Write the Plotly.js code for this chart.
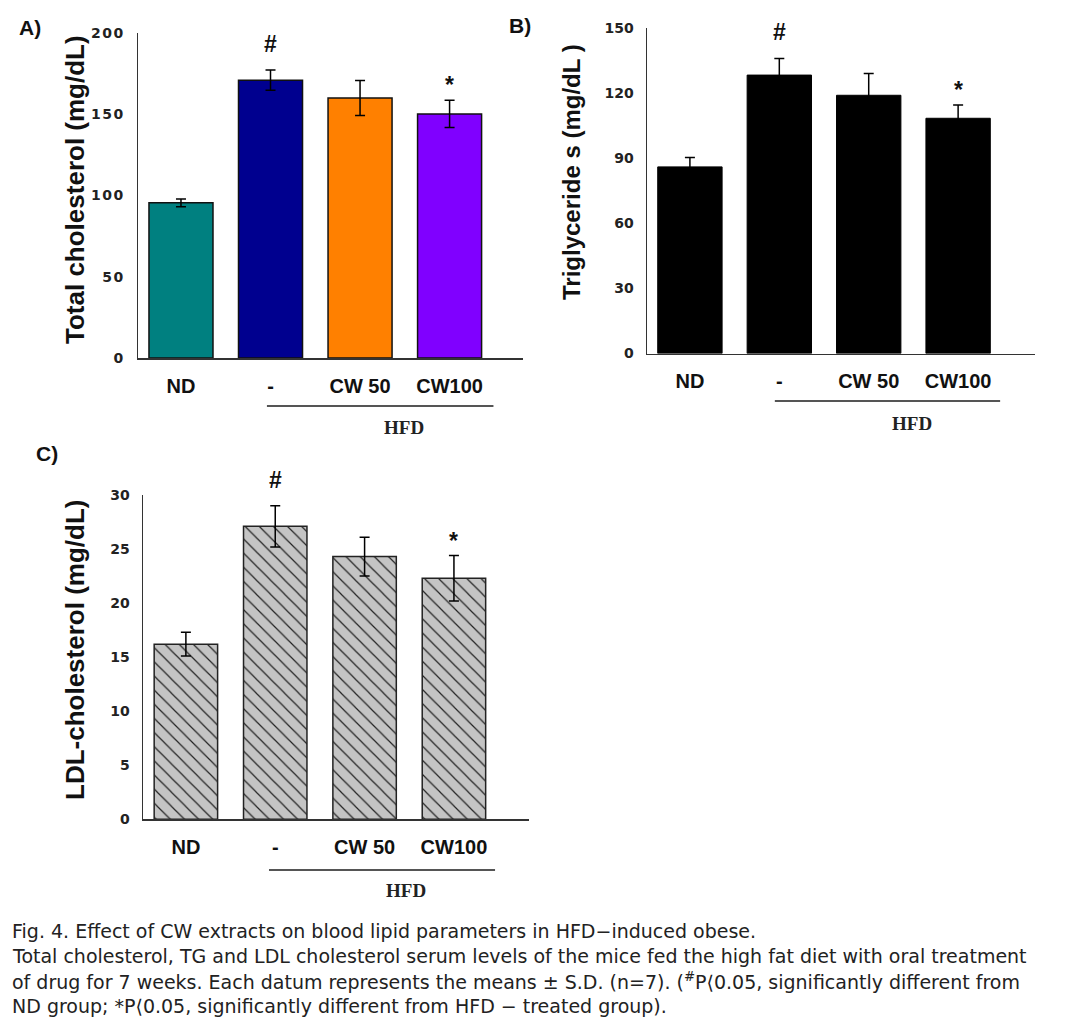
<!DOCTYPE html>
<html>
<head>
<meta charset="utf-8">
<script src="https://cdn.plot.ly/plotly-3.0.1.min.js"></script>
<style>
  html, body { margin: 0; padding: 0; background: #fff; }
  #chart { width: 1071px; height: 1027px; }
  .ytick text { letter-spacing: 1.5px; }
</style>
</head>
<body>
<div id="chart"></div>
<script>
// ---- data ----
const categories = ['ND', '-', 'CW 50', 'CW100'];
const groupLabel = 'HFD';

const tcValues = [95.5, 171, 160, 150.2];
const tcErr = [2.4, 6.2, 10.8, 8.4];
const tcColors = ['#008080', '#00008f', '#ff8000', '#8000ff'];

const tgValues = [86, 128.3, 119, 108.4];
const tgErr = [4.3, 7.7, 10, 6.1];

const ldlValues = [16.2, 27.1, 24.3, 22.3];
const ldlErr = [1.1, 1.9, 1.8, 2.1];

const sigMarks = ['', '#', '', '*'];

const captionLines = [
  'Fig. 4. Effect of CW extracts on blood lipid parameters in HFD\u2212induced obese.',
  'Total cholesterol, TG and LDL cholesterol serum levels of the mice fed the high fat diet with oral treatment',
  'of drug for 7 weeks. Each datum represents the means \u00b1 S.D. (n=7). (<sup>#</sup>P\u27e80.05, significantly different from',
  'ND group; *P\u27e80.05, significantly different from HFD \u2212 treated group).'
];

// ---- layout helpers (pixel -> paper) ----
const W = 1071, H = 1027;
const px = x => x / W;
const py = y => 1 - y / H;

const SANS = 'Liberation Sans, Arial, sans-serif';
const TICKFONT = {family: 'DejaVu Sans, sans-serif', size: 14, color: '#222', weight: 'bold'};
const XTICKFONT = {family: SANS, size: 20, color: '#111', weight: 'bold'};

function errBar(arr) {
  return {type: 'data', array: arr, visible: true, color: '#000', thickness: 1.5, width: 5};
}

const traces = [
  {
    type: 'bar', x: categories, y: tcValues, xaxis: 'x', yaxis: 'y',
    width: 0.715,
    marker: {color: tcColors, line: {color: '#111', width: 1.5}},
    error_y: errBar(tcErr), showlegend: false, hoverinfo: 'x+y'
  },
  {
    type: 'bar', x: categories, y: tgValues, xaxis: 'x2', yaxis: 'y2',
    width: 0.72,
    marker: {color: '#000', line: {color: '#000', width: 1}},
    error_y: errBar(tgErr), showlegend: false, hoverinfo: 'x+y'
  },
  {
    type: 'bar', x: categories, y: ldlValues, xaxis: 'x3', yaxis: 'y3',
    width: 0.71,
    marker: {
      color: '#c4c4c4', line: {color: '#222', width: 1.5},
      pattern: {shape: '\\', fgcolor: '#222', bgcolor: '#c4c4c4', size: 10, solidity: 0.12}
    },
    error_y: errBar(ldlErr), showlegend: false, hoverinfo: 'x+y'
  }
];

function xAxis(domPx, range, anchor) {
  return {
    domain: [px(domPx[0]), px(domPx[1])], range: range, type: 'category', anchor: anchor,
    showline: true, linecolor: '#333', linewidth: 1.5, ticks: '', showgrid: false,
    zeroline: false, tickfont: XTICKFONT, ticklabelstandoff: 9, fixedrange: true
  };
}
function yAxis(domPx, range, dtick, anchor) {
  return {
    domain: [py(domPx[1]), py(domPx[0])], range: range, dtick: dtick, tick0: 0, anchor: anchor,
    showline: true, linecolor: '#333', linewidth: 1.5, ticks: '', showgrid: false,
    zeroline: false, tickfont: TICKFONT, ticklabelstandoff: 9, fixedrange: true
  };
}

const panels = [
  {xa: 'x', ya: 'y', vals: tcValues, errs: tcErr, xPx: [138, 523], yPx: [33, 358], xr: [-0.48, 3.82], yr: [0, 200], dt: 50,
   title: 'Total cholesterol (mg/dL)', titleX: 75, titleY: 190, titleSize: 26,
   label: 'A)', labelX: 30, labelY: 27, lineY: 406, hfdY: 427, line: [0.96, 3.49]},
  {xa: 'x2', ya: 'y2', vals: tgValues, errs: tgErr, xPx: [647, 1035], yPx: [28, 353.5], xr: [-0.48, 3.86], yr: [0, 150], dt: 30,
   title: 'Triglyceride s (mg/dL )', titleX: 572, titleY: 172, titleSize: 24,
   label: 'B)', labelX: 520, labelY: 25, lineY: 401, hfdY: 423, line: [0.95, 3.47]},
  {xa: 'x3', ya: 'y3', vals: ldlValues, errs: ldlErr, xPx: [143, 529], yPx: [495, 819.3], xr: [-0.48, 3.84], yr: [0, 30], dt: 5,
   title: 'LDL-cholesterol (mg/dL)', titleX: 75, titleY: 650, titleSize: 26,
   label: 'C)', labelX: 47, labelY: 454, lineY: 870, hfdY: 890, line: [0.93, 3.46]}
];

const layout = {
  width: W, height: H,
  margin: {l: 0, r: 0, t: 0, b: 0},
  paper_bgcolor: '#fff', plot_bgcolor: 'rgba(0,0,0,0)',
  showlegend: false, bargap: 0.2,
  annotations: [], shapes: []
};

panels.forEach((p, i) => {
  const s = i === 0 ? '' : String(i + 1);
  layout['xaxis' + s] = xAxis(p.xPx, p.xr, p.ya);
  layout['yaxis' + s] = yAxis(p.yPx, p.yr, p.dt, p.xa);

  // y-axis title
  layout.annotations.push({
    xref: 'paper', yref: 'paper', x: px(p.titleX), y: py(p.titleY),
    text: p.title, textangle: -90, showarrow: false,
    xanchor: 'center', yanchor: 'middle',
    font: {family: SANS, size: p.titleSize, color: '#111', weight: 'bold'}
  });
  // panel label
  layout.annotations.push({
    xref: 'paper', yref: 'paper', x: px(p.labelX), y: py(p.labelY),
    text: p.label, showarrow: false, xanchor: 'center', yanchor: 'middle',
    font: {family: SANS, size: 21, color: '#111', weight: 'bold'}
  });
  // significance marks
  sigMarks.forEach((m, k) => {
    if (!m) return;
    layout.annotations.push({
      xref: p.xa, yref: p.ya, x: k, y: p.vals[k] + p.errs[k],
      text: m, showarrow: false, xanchor: 'center', yanchor: 'middle',
      yshift: m === '#' ? 26 : 15,
      font: {family: SANS, size: 23, color: '#111', weight: 'bold'}
    });
  });
  // HFD group line + label
  layout.shapes.push({
    type: 'line', xref: p.xa, yref: 'paper',
    x0: p.line[0], x1: p.line[1], y0: py(p.lineY), y1: py(p.lineY),
    line: {color: '#555', width: 2.2}
  });
  layout.annotations.push({
    xref: p.xa, yref: 'paper', x: (p.line[0] + p.line[1]) / 2 + 0.27, y: py(p.hfdY),
    text: groupLabel, showarrow: false, xanchor: 'center', yanchor: 'middle',
    font: {family: 'Liberation Serif, Times New Roman, serif', size: 19, color: '#222', weight: 'bold'}
  });
});

// caption
const capY = [931, 956, 981, 1006];
captionLines.forEach((t, i) => {
  layout.annotations.push({
    xref: 'paper', yref: 'paper', x: px(10), y: py(capY[i]),
    text: t, showarrow: false, xanchor: 'left', yanchor: 'middle', align: 'left',
    font: {family: 'DejaVu Sans, sans-serif', size: 19, color: '#222'}
  });
});

Plotly.newPlot('chart', traces, layout, {displayModeBar: false, staticPlot: true});
</script>
</body>
</html>
